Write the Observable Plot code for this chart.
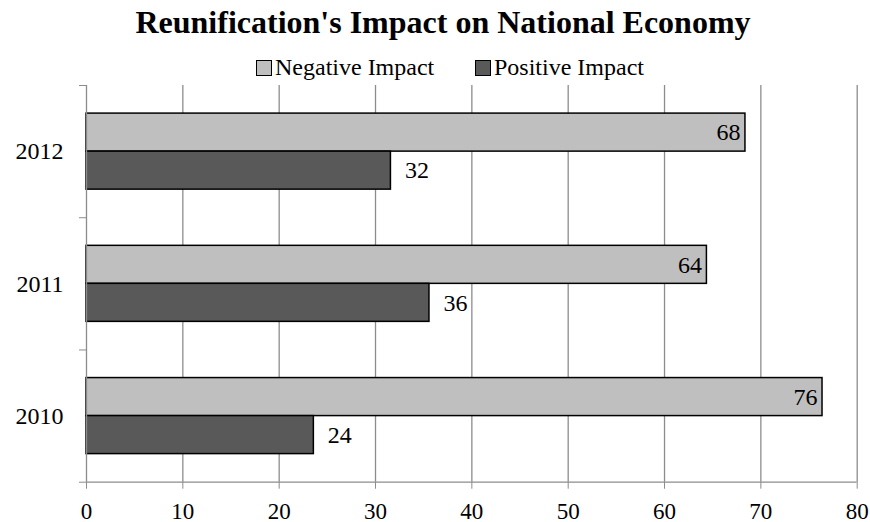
<!DOCTYPE html>
<html><head><meta charset="utf-8">
<script src="https://cdn.jsdelivr.net/npm/d3@7"></script>
<script src="https://cdn.jsdelivr.net/npm/@observablehq/plot@0.6"></script>
<style>
body{margin:0;background:#fff;}
#wrap{width:870px;background:#fff;font-family:"Liberation Serif","Times New Roman",serif;color:#000;}
#header{position:relative;height:75px;width:870px;}
#title{position:absolute;left:8px;top:6px;width:870px;text-align:center;font-weight:bold;font-size:32px;line-height:32px;white-space:nowrap;}
.item{position:absolute;top:55px;height:24px;font-size:24px;line-height:24px;white-space:nowrap;}
.sw{position:absolute;top:5px;left:0;width:14px;height:14px;border:1px solid #000;}
.lab{position:absolute;left:19px;top:0;}
#chart svg text{fill:#000;}
</style>
</head><body>
<div id="wrap">
  <div id="header">
    <div id="title">Reunification's Impact on National Economy</div>
  </div>
  <div id="chart"></div>
</div>
<script>
const years = ["2012", "2011", "2010"];
const seriesNames = ["Negative Impact", "Positive Impact"];
const negative = [68.4, 64.4, 76.4];
const positive = [31.6, 35.6, 23.6];
const xTicks = [0, 10, 20, 30, 40, 50, 60, 70, 80];
const colors = ["#bfbfbf", "#595959"];

// legend
const header = document.getElementById("header");
const legendLeft = [256, 475];
seriesNames.forEach((s, i) => {
  const it = document.createElement("div");
  it.className = "item";
  it.style.left = legendLeft[i] + "px";
  const sw = document.createElement("div");
  sw.className = "sw"; sw.style.background = colors[i];
  const lab = document.createElement("div");
  lab.className = "lab"; lab.textContent = s;
  it.appendChild(sw); it.appendChild(lab);
  header.appendChild(it);
});

// each year occupies one unit of the y scale; its two bars sit within it
const BAR_TOP = 0.2125, BAR_H = 0.2875;
const rows = years.flatMap((year, i) => [
  {year, series: seriesNames[0], value: negative[i], y1: i + BAR_TOP, y2: i + BAR_TOP + BAR_H},
  {year, series: seriesNames[1], value: positive[i], y1: i + BAR_TOP + BAR_H, y2: i + BAR_TOP + 2 * BAR_H}
]);
const mid = d => (d.y1 + d.y2) / 2;

const chart = Plot.plot({
  width: 870,
  height: 447,
  marginTop: 10,
  marginBottom: 40.3,
  marginLeft: 86,
  marginRight: 13.3,
  style: {fontFamily: "'Liberation Serif','Times New Roman',serif", fontSize: "23px", color: "#8c8c8c", background: "#fff", overflow: "visible"},
  x: {domain: [0, 80], ticks: xTicks, tickSize: 7, tickPadding: 13, label: null},
  y: {domain: [0, 3], reverse: true, ticks: [0, 1, 2, 3], tickFormat: () => "", tickSize: 7, label: null},
  color: {domain: seriesNames, range: colors},
  marks: [
    Plot.ruleX(xTicks.slice(1), {stroke: "#8c8c8c", strokeWidth: 1.3}),
    Plot.rectX(rows, {x1: 0, x2: "value", y1: "y1", y2: "y2", fill: "series", stroke: "#000", strokeWidth: 1.5}),
    Plot.ruleX([0], {stroke: "#8c8c8c", strokeWidth: 1.3}),
    Plot.ruleY([3], {stroke: "#8c8c8c", strokeWidth: 1.3}),
    Plot.text(years, {x: 0, y: (d, i) => i + 0.5, text: d => d, textAnchor: "end", dx: -23, fontSize: 24, fill: "#000"}),
    Plot.text(rows.filter(d => d.series === seriesNames[0]), {x: "value", y: mid, text: d => String(Math.round(d.value)), textAnchor: "end", dx: -5, fontSize: 24, fill: "#000"}),
    Plot.text(rows.filter(d => d.series === seriesNames[1]), {x: "value", y: mid, text: d => String(Math.round(d.value)), textAnchor: "start", dx: 14, fontSize: 24, fill: "#000"})
  ]
});
document.getElementById("chart").appendChild(chart);
</script>
</body></html>
